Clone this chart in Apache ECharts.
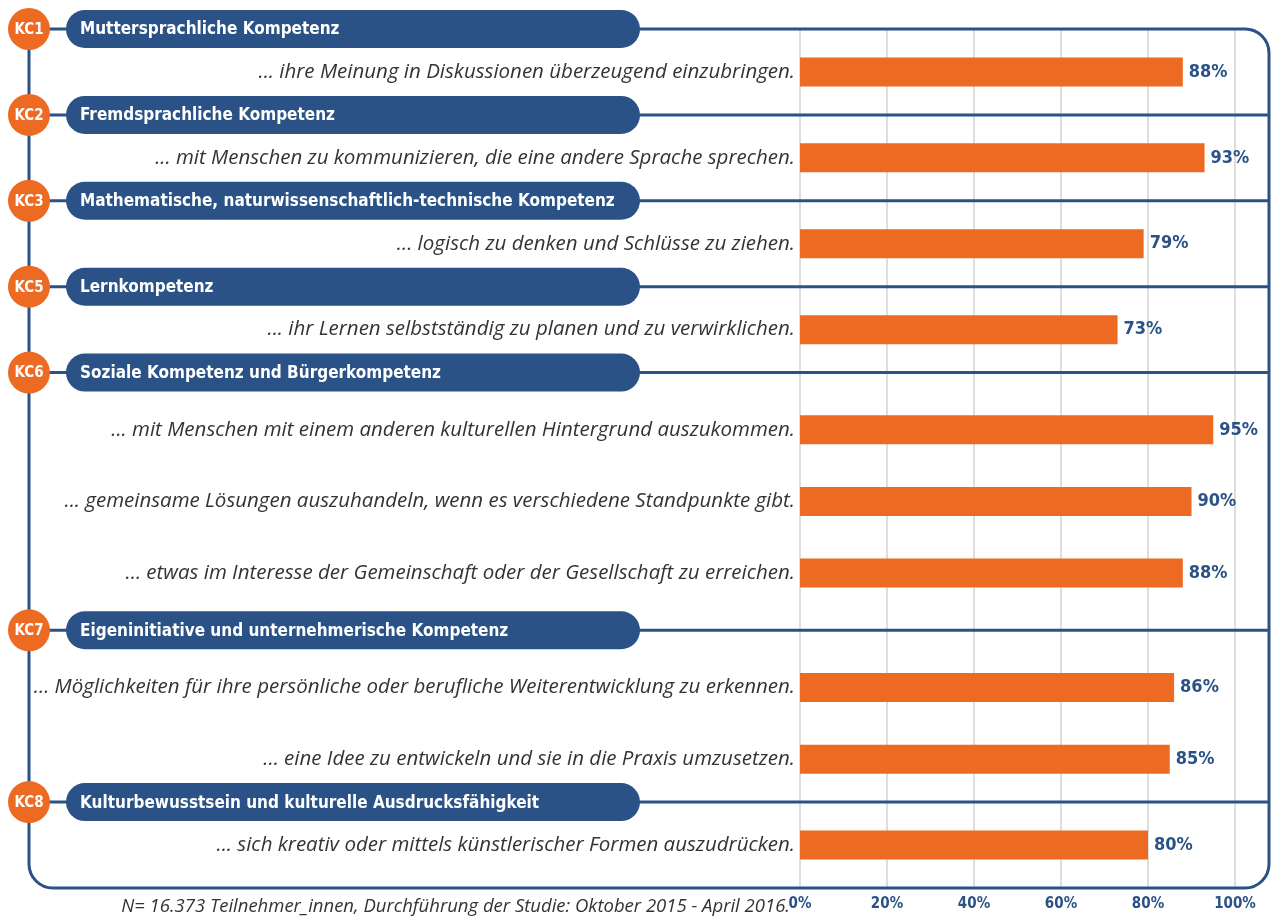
<!DOCTYPE html>
<html>
<head>
<meta charset="utf-8">
<script src="https://cdn.jsdelivr.net/npm/echarts@6/dist/echarts.min.js"></script>
<style>
  html, body { margin: 0; padding: 0; background: #ffffff; }
  #chart { width: 1271px; height: 918px; }
</style>
</head>
<body>
<div id="chart"></div>
<script>
// Daten
var sectionCodes = ['KC1', 'KC2', 'KC3', 'KC5', 'KC6', 'KC7', 'KC8'];
var sectionTitles = [
  'Muttersprachliche Kompetenz',
  'Fremdsprachliche Kompetenz',
  'Mathematische, naturwissenschaftlich-technische Kompetenz',
  'Lernkompetenz',
  'Soziale Kompetenz und Bürgerkompetenz',
  'Eigeninitiative und unternehmerische Kompetenz',
  'Kulturbewusstsein und kulturelle Ausdrucksfähigkeit'
];
var itemLabels = [
  '... ihre Meinung in Diskussionen überzeugend einzubringen.',
  '... mit Menschen zu kommunizieren, die eine andere Sprache sprechen.',
  '... logisch zu denken und Schlüsse zu ziehen.',
  '... ihr Lernen selbstständig zu planen und zu verwirklichen.',
  '... mit Menschen mit einem anderen kulturellen Hintergrund auszukommen.',
  '... gemeinsame Lösungen auszuhandeln, wenn es verschiedene Standpunkte gibt.',
  '... etwas im Interesse der Gemeinschaft oder der Gesellschaft zu erreichen.',
  '... Möglichkeiten für ihre persönliche oder berufliche Weiterentwicklung zu erkennen.',
  '... eine Idee zu entwickeln und sie in die Praxis umzusetzen.',
  '... sich kreativ oder mittels künstlerischer Formen auszudrücken.'
];
var itemValues = [88, 93, 79, 73, 95, 90, 88, 86, 85, 80];
var itemSection = [0, 1, 2, 3, 4, 4, 4, 5, 5, 6];
var xTicks = [0, 20, 40, 60, 80, 100];
var footnote = 'N= 16.373 Teilnehmer_innen, Durchführung der Studie: Oktober 2015 - April 2016.';

// Layout: Abstand (in Zeilenschritten) vor jeder Zeile
var rowGaps = [0, 3, 3, 3, 3, 3, 3, 3, 3, 4, 5, 5, 4, 4, 5, 3, 3];
var tailSlots = 3;

var BLUE = '#2a5286';
var ORANGE = '#ec6a22';
var COND = '"DejaVu Sans Condensed", "DejaVu Sans", sans-serif';

// Zeilen aufbauen (Kopfzeilen + Items)
var rows = [];
itemSection.forEach(function (s, i) {
  if (i === 0 || itemSection[i - 1] !== s) rows.push({type: 'head', idx: s});
  rows.push({type: 'item', idx: i});
});

var categories = [];
var barData = [];
var headData = [];
var slot = -1;
rows.forEach(function (r, k) {
  var gap = k === 0 ? 1 : rowGaps[k];
  for (var g = 0; g < gap - 1; g++) { categories.push(''); barData.push('-'); }
  slot = categories.length;
  if (r.type === 'head') {
    categories.push('');
    barData.push('-');
    headData.push({value: [0, slot, r.idx]});
  } else {
    categories.push(itemLabels[r.idx]);
    barData.push(itemValues[r.idx]);
  }
});
for (var t = 0; t < tailSlots; t++) { categories.push(''); barData.push('-'); }

var chart = echarts.init(document.getElementById('chart'));

chart.setOption({
  animation: false,
  backgroundColor: '#ffffff',
  grid: { left: 800, right: 36, top: 29, bottom: 30, containLabel: false },
  xAxis: {
    type: 'value',
    min: xTicks[0],
    max: xTicks[xTicks.length - 1],
    interval: xTicks[1] - xTicks[0],
    axisLine: { show: false },
    axisTick: { show: false },
    splitLine: { show: true, lineStyle: { color: '#dedede', width: 2 } },
    axisLabel: {
      margin: 9,
      formatter: '{value}%',
      color: BLUE,
      fontFamily: COND,
      fontWeight: 'bold',
      fontSize: 15
    }
  },
  yAxis: {
    type: 'category',
    inverse: true,
    boundaryGap: false,
    data: categories,
    axisLine: { show: false },
    axisTick: { show: false },
    splitLine: { show: false },
    axisLabel: {
      interval: 0,
      margin: 5,
      color: '#333333',
      fontFamily: '"Open Sans", sans-serif',
      fontStyle: 'italic',
      fontSize: 20.5
    }
  },
  graphic: [
    {
      type: 'rect',
      z: 1,
      shape: { x: 29, y: 29, width: 1240, height: 859, r: [0, 24, 24, 24] },
      style: { fill: 'none', stroke: BLUE, lineWidth: 3 }
    },
    {
      type: 'text',
      z: 1,
      x: 790,
      y: 907,
      style: {
        text: footnote,
        align: 'right',
        verticalAlign: 'middle',
        fill: '#333333',
        font: 'italic 18.5px "Open Sans", sans-serif'
      }
    }
  ],
  series: [
    {
      type: 'bar',
      data: barData,
      barWidth: 29,
      itemStyle: { color: ORANGE },
      z: 3,
      label: {
        show: true,
        position: 'right',
        distance: 6,
        formatter: '{c}%',
        color: BLUE,
        fontFamily: COND,
        fontWeight: 'bold',
        fontSize: 18
      }
    },
    {
      type: 'custom',
      z: 4,
      data: headData,
      encode: { x: 0, y: 1 },
      renderItem: function (params, api) {
        var y = api.coord([0, api.value(1)])[1];
        var s = api.value(2);
        var children = [];
        if (s !== 0) {
          children.push({
            type: 'line',
            shape: { x1: 29, y1: y, x2: 1269, y2: y },
            style: { stroke: BLUE, lineWidth: 3 }
          });
        }
        children.push({
          type: 'rect',
          shape: { x: 66, y: y - 19, width: 574, height: 38, r: 19 },
          style: { fill: BLUE }
        });
        children.push({
          type: 'circle',
          shape: { cx: 29, cy: y, r: 21 },
          style: { fill: ORANGE }
        });
        children.push({
          type: 'text',
          x: 29,
          y: y + 1,
          style: {
            text: sectionCodes[s],
            align: 'center',
            verticalAlign: 'middle',
            fill: '#ffffff',
            font: 'bold 15px ' + COND
          }
        });
        children.push({
          type: 'text',
          x: 80,
          y: y + 1,
          style: {
            text: sectionTitles[s],
            align: 'left',
            verticalAlign: 'middle',
            fill: '#ffffff',
            font: 'bold 17px ' + COND
          }
        });
        return { type: 'group', children: children };
      }
    }
  ]
});
</script>
</body>
</html>
